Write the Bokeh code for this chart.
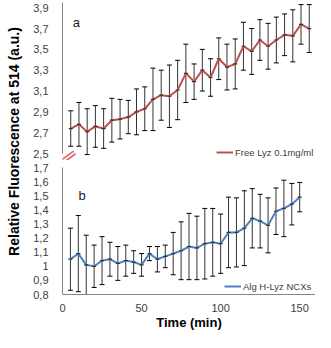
import math
from bokeh.plotting import figure
from bokeh.layouts import row, column
from bokeh.models import (ColumnDataSource, Whisker, TeeHead, FixedTicker, Legend,
                          LegendItem, Label, Arrow, Range1d)
from bokeh.embed import file_html
from bokeh.resources import INLINE

# ---------------- data ----------------
times = [5, 10, 15, 20, 25, 30, 35, 40, 45, 50, 55, 60, 65, 70, 75,
         80, 85, 90, 95, 100, 105, 110, 115, 120, 125, 130, 135, 140, 145, 150]

free_lyz = [2.74, 2.78, 2.71, 2.76, 2.74, 2.82, 2.83, 2.85, 2.90, 2.93,
            3.02, 3.06, 3.05, 3.11, 3.27, 3.19, 3.30, 3.23, 3.41, 3.33,
            3.36, 3.53, 3.48, 3.59, 3.53, 3.59, 3.64, 3.63, 3.74, 3.70]
free_err = [0.17, 0.21, 0.22, 0.20, 0.19, 0.21, 0.19, 0.16, 0.22, 0.21,
            0.30, 0.24, 0.30, 0.285, 0.28, 0.17, 0.20, 0.18, 0.20, 0.22,
            0.24, 0.23, 0.22, 0.195, 0.22, 0.22, 0.20, 0.25, 0.19, 0.23]

alg_lyz = [1.05, 1.09, 1.01, 1.00, 1.04, 1.05, 1.02, 1.04, 1.03, 1.01,
           1.09, 1.05, 1.07, 1.09, 1.11, 1.14, 1.13, 1.16, 1.17, 1.16,
           1.24, 1.24, 1.27, 1.34, 1.32, 1.29, 1.39, 1.41, 1.44, 1.49]
alg_err = [0.22, 0.27, 0.21, 0.15, 0.17, 0.12, 0.12, 0.11, 0.08, 0.08,
           0.05, 0.09, 0.08, 0.15, 0.205, 0.235, 0.225, 0.25, 0.24, 0.21,
           0.25, 0.245, 0.265, 0.21, 0.19, 0.195, 0.165, 0.20, 0.147, 0.104]

top_ticks = [2.5, 2.7, 2.9, 3.1, 3.3, 3.5, 3.7, 3.9]
top_tick_labels = ["2,5", "2,7", "2,9", "3,1", "3,3", "3,5", "3,7", "3,9"]
bot_ticks = [0.8, 0.9, 1.0, 1.1, 1.2, 1.3, 1.4, 1.5, 1.6, 1.7]
bot_tick_labels = ["0,8", "0,9", "1", "1,1", "1,2", "1,3", "1,4", "1,5", "1,6", "1,7"]
x_ticks = [0, 50, 100, 150]
x_tick_labels = ["0", "50", "100", "150"]

series_top = "Free Lyz 0.1mg/ml"
series_bot = "Alg H-Lyz NCXs"
y_title = "Relative Fluorescence at 514 (a.u.)"
x_title = "Time (min)"

# ---------------- style ----------------
FONT = "Liberation Sans"
RED = "#C0504D"
BLUE = "#4F81BD"
AXIS = "#868686"
TXT = "#404040"
BREAK = "#D9696B"
BAR = "#333333"

LEFT_W = 30
MAIN_W = 285
TOP_H = 160
BOT_H = 172
BORDER_L = 28


def style_y(p, ticks, labels, bounds):
    ax = p.yaxis[0]
    ax.ticker = FixedTicker(ticks=ticks)
    ax.major_label_overrides = {t: l for t, l in zip(ticks, labels)}
    ax.bounds = bounds
    ax.axis_line_color = AXIS
    ax.axis_line_width = 1
    ax.major_tick_line_color = None
    ax.minor_tick_line_color = None
    ax.major_label_standoff = 8
    ax.major_label_text_font = FONT
    ax.major_label_text_font_size = "11px"
    ax.major_label_text_color = TXT


def make_src(vals, errs):
    return ColumnDataSource(dict(
        t=times, v=vals,
        up=[a + e for a, e in zip(vals, errs)],
        lo=[a - e for a, e in zip(vals, errs)]))


def add_series(p, src, color, label, legend_x):
    w = Whisker(source=src, base="t", upper="up", lower="lo",
                line_color=BAR, line_width=1,
                upper_head=TeeHead(size=5, line_color="black", line_width=1),
                lower_head=TeeHead(size=5, line_color="black", line_width=1))
    p.add_layout(w)
    r = p.line("t", "v", source=src, line_color=color, line_width=2)
    p.scatter("t", "v", source=src, marker="dash", size=4,
              line_color="#333333", line_width=1.2)
    leg = Legend(items=[LegendItem(label=label, renderers=[r])],
                 location=(legend_x, 2), orientation="vertical",
                 background_fill_alpha=0, border_line_color=None,
                 padding=0, margin=0, spacing=0,
                 glyph_width=17, glyph_height=12, label_height=12,
                 label_standoff=2, label_text_font=FONT,
                 label_text_font_size="9.5px", label_text_color=TXT)
    p.add_layout(leg)


# ---------------- top panel ----------------
top = figure(width=MAIN_W, height=TOP_H, output_backend="svg", toolbar_location=None,
             x_range=Range1d(0, 153.8), y_range=Range1d(2.433, 3.95),
             x_axis_location=None, min_border_left=BORDER_L, min_border_right=0,
             min_border_top=2, min_border_bottom=0)
top.outline_line_color = None
top.grid.visible = False
style_y(top, top_ticks, top_tick_labels, (2.5, 3.95))
add_series(top, make_src(free_lyz, free_err), RED, series_top, 154)
top.add_layout(Label(x=8.4, y=3.76, text="a", text_font=FONT, text_font_size="13px",
                     text_align="center", text_baseline="middle", text_color="#1a1a1a"))
for lw, col in ((5, BREAK), (1.5, "white")):
    top.add_layout(Arrow(end=None, x_start=-4.6, y_start=2.375, x_end=7.4, y_end=2.51,
                         line_color=col, line_width=lw))

# ---------------- bottom panel ----------------
bot = figure(width=MAIN_W, height=BOT_H, output_backend="svg", toolbar_location=None,
             x_range=Range1d(0, 160), y_range=Range1d(0.8, 1.7),
             min_border_left=BORDER_L, min_border_right=0,
             min_border_top=7, min_border_bottom=30)
bot.outline_line_color = None
bot.grid.visible = False
style_y(bot, bot_ticks, bot_tick_labels, (0.8, 1.7))
xa = bot.xaxis[0]
xa.ticker = FixedTicker(ticks=x_ticks)
xa.major_label_overrides = {t: l for t, l in zip(x_ticks, x_tick_labels)}
xa.axis_line_color = AXIS
xa.major_tick_line_color = None
xa.minor_tick_line_color = None
xa.major_label_standoff = 3
xa.major_label_text_font = FONT
xa.major_label_text_font_size = "11px"
xa.major_label_text_color = TXT
xa.axis_label = x_title
xa.axis_label_standoff = 0
xa.axis_label_text_font = FONT
xa.axis_label_text_font_size = "13px"
xa.axis_label_text_font_style = "bold"
xa.axis_label_text_color = "black"
add_series(bot, make_src(alg_lyz, alg_err), BLUE, series_bot, 162)
bot.add_layout(Label(x=12.4, y=1.50, text="b", text_font=FONT, text_font_size="13px",
                     text_align="center", text_baseline="middle", text_color="#1a1a1a"))
for lw, col in ((5, BREAK), (1.5, "white")):
    bot.add_layout(Arrow(end=None, x_start=-5.0, y_start=1.707, x_end=7.5, y_end=1.80,
                         line_color=col, line_width=lw))

# ---------------- y title ----------------
lab = figure(width=LEFT_W, height=TOP_H + BOT_H, output_backend="svg", toolbar_location=None,
             x_range=Range1d(0, LEFT_W), y_range=Range1d(0, TOP_H + BOT_H),
             x_axis_location=None, y_axis_location=None, min_border=0)
lab.outline_line_color = None
lab.grid.visible = False
lab.add_layout(Label(x=13, y=191, text=y_title, angle=math.pi / 2,
                     text_font=FONT, text_font_size="14px", text_font_style="bold",
                     text_align="center", text_baseline="middle", text_color="black"))

layout = row(lab, column(top, bot))
open("out.html", "w").write(file_html(layout, INLINE))
